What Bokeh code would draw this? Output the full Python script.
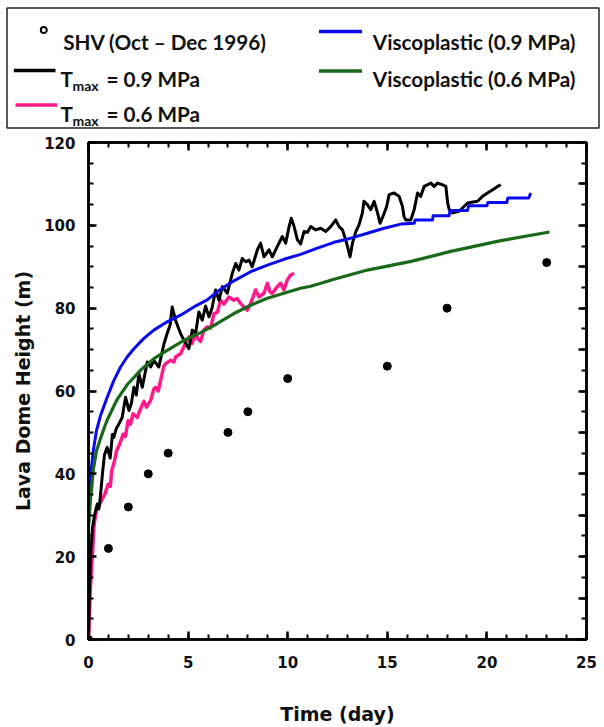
from bokeh.plotting import figure
from bokeh.models import Range1d, LinearAxis, SingleIntervalTicker
from bokeh.core.properties import value
from bokeh.embed import file_html
from bokeh.resources import INLINE

# ---------------- data ----------------
shv_t = [0, 1, 2, 3, 4, 7, 8, 10, 15, 18, 23]
shv_h = [0, 22, 32, 40, 45, 50, 55, 63, 66, 80, 91]

t09_t = [0, 0.04, 0.1, 0.2, 0.3, 0.44, 0.52, 0.59, 0.7, 0.8, 0.94, 1.09, 1.2, 1.27, 1.4,
         1.52, 1.69, 1.86, 2.03, 2.15, 2.28, 2.4, 2.53, 2.7, 2.95, 3.12, 3.28, 3.53, 3.79,
         3.95, 4.1, 4.2, 4.37, 4.62, 4.79, 5.04, 5.21, 5.38, 5.54, 5.71, 5.88, 6.05, 6.2,
         6.38, 6.55, 6.72, 6.97, 7.22, 7.39, 7.55, 7.72, 7.89, 8.06, 8.22, 8.48, 8.64, 8.81,
         9.06, 9.23, 9.48, 9.73, 9.9, 10.07, 10.18, 10.32, 10.49, 10.65, 10.82, 10.99, 11.16,
         11.41, 11.66, 11.91, 12.16, 12.41, 12.58, 12.75, 12.91, 13.0, 13.13, 13.25, 13.42,
         13.58, 13.75, 13.83, 14.0, 14.17, 14.34, 14.51, 14.64, 14.81, 14.97, 15.09, 15.34,
         15.59, 15.76, 15.84, 15.93, 16.18, 16.35, 16.52, 16.68, 16.85, 17.19, 17.35, 17.52,
         17.77, 17.94, 18.03, 18.11, 18.28, 18.6, 19.03, 19.53, 19.78, 20.03, 20.29, 20.54, 20.7]
t09_h = [0, 10, 20, 27, 30, 32.7, 31.5, 34.2, 40, 44.6, 46.4, 43.8, 49.5, 48.8, 51,
         52, 53.6, 58.5, 55.3, 57, 60.9, 59, 64.2, 60.9, 67, 65.8, 67.4, 65.8, 71.4,
         73.9, 76, 80.3, 77.1, 73.9, 72.2, 70.2, 74.7, 74, 79.1, 77.1, 80.5, 77.9, 80,
         84.4, 81.9, 85.2, 83.6, 88.4, 90.8, 89.2, 92.0, 91.2, 91.6, 90.0, 94.1, 95.7, 92.4,
         94.1, 92.4, 94.9, 97.3, 95.7, 99.7, 101.7, 99.7, 96.5, 95.5, 98.5, 98.3, 99.7,
         98.9, 99.3, 98.5, 99.7, 101.3, 99.7, 98.9, 96.5, 94.9, 92.4, 95.7, 98.5,
         100.1, 103.0, 105.8, 105.0, 103.8, 105.8, 103.0, 100.5, 102.5, 104.6, 107.4, 107.8,
         107.0, 104.6, 102.1, 101.3, 101.3, 103.8, 107.8, 107.0, 109.4, 110.2, 109.4, 110.2,
         109.8, 109.4, 105.4, 103.8, 103.0, 103.4, 105.4, 105.8, 107.0, 107.8, 108.6, 109.4, 109.8]

t06_t = [0, 0.05, 0.1, 0.2, 0.27, 0.32, 0.4, 0.5, 0.65, 0.82, 0.99, 1.1, 1.16, 1.3, 1.41,
         1.57, 1.74, 1.85, 1.99, 2.11, 2.24, 2.45, 2.58, 2.78, 2.91, 3.12, 3.28, 3.37, 3.5,
         3.62, 3.78, 3.87, 4.12, 4.29, 4.37, 4.62, 4.87, 5.04, 5.2, 5.38, 5.5, 5.63, 5.79,
         5.96, 6.13, 6.3, 6.47, 6.63, 6.8, 7.05, 7.3, 7.47, 7.64, 7.97, 8.14, 8.39, 8.56,
         8.81, 8.98, 9.1, 9.23, 9.48, 9.65, 9.81, 9.98, 10.15, 10.32]
t06_h = [0, 6, 13, 20.5, 27, 29, 31, 32, 33.5, 35.1, 37.5, 37, 40.7, 43, 45.6,
         47.2, 49.6, 49, 52.8, 52, 54.5, 53.6, 55.3, 57.5, 56.1, 57.7, 60.5, 60.9, 60,
         62.5, 66, 66.6, 67.4, 67.0, 68.2, 69.0, 71.5, 73.0, 71.5, 73.9, 72.5, 72.0, 74.7,
         75.5, 75.2, 78.7, 79, 81.9, 81, 82.7, 81.9, 82.3, 81.1, 79.5, 81.1, 84.4, 82.7,
         83.6, 86.0, 84, 83.6, 85.2, 86.0, 84.4, 86.8, 88.0, 88.4]

vp09_t = [0.03, 0.1, 0.15, 0.24, 0.4, 0.6, 0.94, 1.27, 1.61, 1.94, 2.28, 2.78, 3.28, 3.95,
          4.62, 5.29, 5.96, 6.47, 7.3, 8.14, 8.98, 9.81, 10.65, 11.49, 12.33, 13.17, 14.0,
          14.84, 15.68, 16.35, 16.4, 17.27, 17.3, 18.1, 18.15, 19.03, 19.08, 20.0, 20.05,
          21.0, 21.05, 22.1, 22.2]
vp09_h = [36, 39.5, 41.5, 45.6, 50.4, 54, 58.5, 62.5, 65.8, 68.2, 70.2, 72.7, 74.7, 76.7,
          78.3, 80.3, 82.0, 84.0, 86.6, 88.8, 90.4, 91.8, 93.0, 94.5, 95.9, 96.9, 98.1,
          99.3, 100.3, 100.5, 101.3, 101.3, 102.3, 102.3, 103.6, 103.6, 104.7, 104.7, 105.5,
          105.5, 106.6, 106.6, 107.8]

vp06_t = [0.02, 0.1, 0.15, 0.24, 0.4, 0.6, 0.82, 0.94, 1.24, 1.44, 1.94, 2.61, 3.28, 3.95,
          4.79, 5.63, 6.47, 7.3, 8.14, 8.98, 9.81, 10.65, 11.16, 12.33, 14.0, 16.2, 18.19,
          20.7, 23.14]
vp06_h = [28, 34, 36, 41, 45.5, 48.5, 51.5, 53, 56, 58, 61.5, 65.0, 67.8, 69.8,
          72.2, 74.1, 76.3, 78.7, 80.7, 82.4, 83.6, 84.8, 85.3, 87.0, 89.2, 91.3, 93.7,
          96.3, 98.4]

legend_left_labels = ["SHV (Oct \u2013 Dec 1996)", "= 0.9 MPa", "= 0.6 MPa"]
legend_right_labels = ["Viscoplastic (0.9 MPa)", "Viscoplastic (0.6 MPa)"]
x_title = "Time (day)"
y_title = "Lava Dome Height (m)"

C_BLACK = "#000000"
C_PINK = "#FF1A8C"
C_BLUE = "#0A0AEE"
C_GREEN = "#18691A"

# ---------------- legend panel (separate root, pixel coordinates) ----------------
LF = value("Lato")
lg = figure(width=604, height=130, x_range=Range1d(0, 604), y_range=Range1d(130, 0),
            output_backend="svg", toolbar_location=None, min_border=0,
            min_border_left=0, min_border_right=0, min_border_top=0, min_border_bottom=0,
            x_axis_location=None, y_axis_location=None)
lg.grid.visible = False
lg.outline_line_color = None
lg.background_fill_color = "white"
lg.border_fill_color = "white"
lg.quad(left=[6.5], right=[598.5], top=[7.5], bottom=[127.5], fill_color=None,
        line_color="#222222", line_width=1.5)
lg.scatter(x=[43.3], y=[29.5], size=6, marker="circle", fill_color="white",
           line_color="black", line_width=2)
lg.line(x=[13.3, 55], y=[70, 70], line_color=C_BLACK, line_width=3.5)
lg.line(x=[15, 56.7], y=[104.5, 104.5], line_color=C_PINK, line_width=3.5)
lg.line(x=[318.5, 361.5], y=[31, 31], line_color=C_BLUE, line_width=3.5)
lg.line(x=[318.5, 361.5], y=[70.5, 70.5], line_color=C_GREEN, line_width=3.5)
txt = dict(text_font=LF, text_font_style="bold", text_font_size="20.7px",
           text_baseline="alphabetic", text_align="left", text_color="#111111")
lg.text(x=[62.7, 106, 106], y=[41.7, 78.3, 113.3], text=legend_left_labels, **txt)
lg.text(x=[372.3, 372.3], y=[41.7, 78.3], text=legend_right_labels, **txt)
lg.text(x=[60, 60], y=[78.3, 113.3], text=["T", "T"], **txt)
sub = dict(txt)
sub["text_font_size"] = "14px"
lg.text(x=[72, 72], y=[85, 120], text=["max", "max"], **sub)

# ---------------- main plot ----------------
p = figure(width=604, height=597, x_range=Range1d(0, 25), y_range=Range1d(0, 120),
           output_backend="svg", toolbar_location=None,
           min_border_left=88, min_border_right=18, min_border_top=12, min_border_bottom=88)
p.grid.visible = False
p.background_fill_color = "white"
p.border_fill_color = "white"
p.outline_line_color = "black"
p.outline_line_width = 2.5

bottom_ax = p.below[0]
left_ax = p.left[0]
bottom_ax.ticker = SingleIntervalTicker(interval=5, num_minor_ticks=5)
left_ax.ticker = SingleIntervalTicker(interval=20, num_minor_ticks=4)

top_ax = LinearAxis(ticker=SingleIntervalTicker(interval=5, num_minor_ticks=5))
right_ax = LinearAxis(ticker=SingleIntervalTicker(interval=10, num_minor_ticks=2))
p.add_layout(top_ax, "above")
p.add_layout(right_ax, "right")

for ax in [bottom_ax, left_ax, top_ax, right_ax]:
    ax.axis_line_color = "black"
    ax.axis_line_width = 2.5
    ax.major_tick_line_color = "black"
    ax.major_tick_line_width = 2.5
    ax.minor_tick_line_color = "black"
    ax.minor_tick_line_width = 2
    ax.major_tick_in = 8
    ax.major_tick_out = 0
    ax.minor_tick_in = 5
    ax.minor_tick_out = 0
    ax.major_label_text_font = "DejaVu Sans"
    ax.major_label_text_font_style = "bold"
    ax.major_label_text_color = "#111111"
    ax.major_label_text_font_size = "15px"
    ax.axis_label_text_font = "DejaVu Sans"
    ax.axis_label_text_font_style = "bold"
    ax.axis_label_text_font_size = "19px"
    ax.axis_label_text_color = "#111111"

for ax in [top_ax, right_ax]:
    ax.major_label_text_color = None
    ax.major_label_text_font_size = "2px"
    ax.major_label_standoff = 0

bottom_ax.axis_label = x_title
left_ax.axis_label = y_title
bottom_ax.major_label_standoff = 16
bottom_ax.axis_label_standoff = 32
left_ax.major_label_standoff = 13
left_ax.axis_label_standoff = 7

p.line(t06_t, t06_h, line_color=C_PINK, line_width=3.5, line_join="round")
p.line(t09_t, t09_h, line_color=C_BLACK, line_width=3, line_join="round")
p.line(vp09_t, vp09_h, line_color=C_BLUE, line_width=3, line_join="round")
p.line(vp06_t, vp06_h, line_color=C_GREEN, line_width=3.2, line_join="round")
p.scatter(shv_t, shv_h, size=8, marker="circle", fill_color="black", line_color="black")

open("out.html", "w").write(file_html([lg, p], INLINE))
